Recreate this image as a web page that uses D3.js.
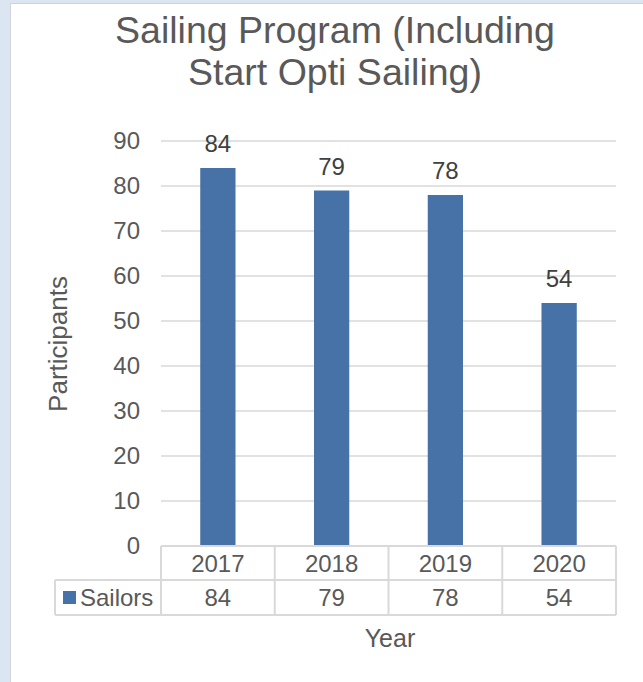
<!DOCTYPE html>
<html>
<head>
<meta charset="utf-8">
<script src="https://cdn.jsdelivr.net/npm/d3@7"></script>
<style>
  body { margin: 0; padding: 0; background: #dce6f2; }
  svg { display: block; font-family: "Liberation Sans", Arial, sans-serif; }
</style>
</head>
<body>
<svg id="chart"></svg>
<script>
// donnees du graphique
var years = ["2017", "2018", "2019", "2020"];
var sailors = [84, 79, 78, 54];
var yTicks = [0, 10, 20, 30, 40, 50, 60, 70, 80, 90];
var seriesName = "Sailors";
var titleLines = ["Sailing Program (Including", "Start Opti Sailing)"];

var W = 643, H = 682;
var textColor = "#595959";
var gridColor = "#d9d9d9";
var barColor = "#4672a8";

var svg = d3.select("#chart").attr("width", W).attr("height", H);

// fond
svg.append("rect").attr("x", 0).attr("y", 0).attr("width", W).attr("height", H).attr("fill", "#dce6f2");
svg.append("rect").attr("x", 10.5).attr("y", 3.5).attr("width", W).attr("height", H)
  .attr("fill", "#ffffff").attr("stroke", "#d0d4d9").attr("stroke-width", 1);

// titre
svg.selectAll("text.title")
  .data(titleLines)
  .enter()
  .append("text")
  .attr("class", "title")
  .attr("x", 335)
  .attr("y", function(d, i){ return 43 + i * 42 })
  .attr("text-anchor", "middle")
  .attr("fill", textColor)
  .style("font-size", "37.5px")
  .text(function(d){ return d });

// echelles
var x = d3.scaleBand().domain(years).range([161, 616]);
var y = d3.scaleLinear().domain([0, 90]).range([546, 141]);
var barW = x.step() * 0.31;

// grille
svg.selectAll("line.grid")
  .data(yTicks.filter(function(d){ return d > 0 }))
  .enter()
  .append("line")
  .attr("class", "grid")
  .attr("x1", 161).attr("x2", 616)
  .attr("y1", function(d){ return y(d) })
  .attr("y2", function(d){ return y(d) })
  .attr("stroke", gridColor)
  .attr("stroke-width", 1.5);

// axe y (labels seulement)
var yAxis = svg.append("g")
  .attr("transform", "translate(140,0)")
  .call(d3.axisLeft(y).tickValues(yTicks).tickSize(0).tickPadding(0));
yAxis.select(".domain").remove();
yAxis.selectAll("text")
  .attr("fill", textColor)
  .style("font-size", "24px")
  .style("font-family", "Liberation Sans, Arial, sans-serif");

// barres
svg.selectAll("rect.bar")
  .data(sailors)
  .enter()
  .append("rect")
  .attr("class", "bar")
  .attr("x", function(d, i){ return x(years[i]) + (x.bandwidth() - barW) / 2 })
  .attr("y", function(d){ return y(d) })
  .attr("width", barW)
  .attr("height", function(d){ return y(0) - y(d) })
  .attr("fill", barColor);

// etiquettes de donnees
svg.selectAll("text.lbl")
  .data(sailors)
  .enter()
  .append("text")
  .attr("class", "lbl")
  .attr("x", function(d, i){ return x(years[i]) + x.bandwidth() / 2 })
  .attr("y", function(d){ return y(d) - 16 })
  .attr("text-anchor", "middle")
  .attr("fill", "#404040")
  .style("font-size", "24px")
  .text(function(d){ return d });

// table de donnees
var rowTop = 546, rowMid = 580, rowBot = 615, legL = 55;
var tbl = svg.append("g").attr("stroke", gridColor).attr("stroke-width", 2).attr("fill", "none");
tbl.append("line").attr("x1", 161).attr("x2", 616).attr("y1", rowTop).attr("y2", rowTop);
tbl.append("line").attr("x1", legL).attr("x2", 616).attr("y1", rowMid).attr("y2", rowMid);
tbl.append("line").attr("x1", legL).attr("x2", 616).attr("y1", rowBot).attr("y2", rowBot);
tbl.append("line").attr("x1", legL).attr("x2", legL).attr("y1", rowMid).attr("y2", rowBot);
tbl.selectAll("line.col")
  .data(years.concat(["end"]))
  .enter()
  .append("line")
  .attr("class", "col")
  .attr("x1", function(d, i){ return i < years.length ? x(d) : 616 })
  .attr("x2", function(d, i){ return i < years.length ? x(d) : 616 })
  .attr("y1", rowTop).attr("y2", rowBot);

svg.selectAll("text.yr")
  .data(years)
  .enter()
  .append("text")
  .attr("class", "yr")
  .attr("x", function(d){ return x(d) + x.bandwidth() / 2 })
  .attr("y", 572)
  .attr("text-anchor", "middle")
  .attr("fill", textColor)
  .style("font-size", "24px")
  .text(function(d){ return d });

svg.selectAll("text.val")
  .data(sailors)
  .enter()
  .append("text")
  .attr("class", "val")
  .attr("x", function(d, i){ return x(years[i]) + x.bandwidth() / 2 })
  .attr("y", 606)
  .attr("text-anchor", "middle")
  .attr("fill", textColor)
  .style("font-size", "24px")
  .text(function(d){ return d });

// legende
svg.append("rect").attr("x", 63).attr("y", 591).attr("width", 13).attr("height", 13).attr("fill", barColor);
svg.append("text").attr("x", 80).attr("y", 606).attr("fill", textColor)
  .style("font-size", "24px").text(seriesName);

// titres des axes
svg.append("text")
  .attr("transform", "translate(67,344) rotate(-90)")
  .attr("text-anchor", "middle")
  .attr("fill", textColor)
  .style("font-size", "26px")
  .text("Participants");

svg.append("text")
  .attr("x", 390).attr("y", 647)
  .attr("text-anchor", "middle")
  .attr("fill", textColor)
  .style("font-size", "25px")
  .text("Year");
</script>
</body>
</html>
